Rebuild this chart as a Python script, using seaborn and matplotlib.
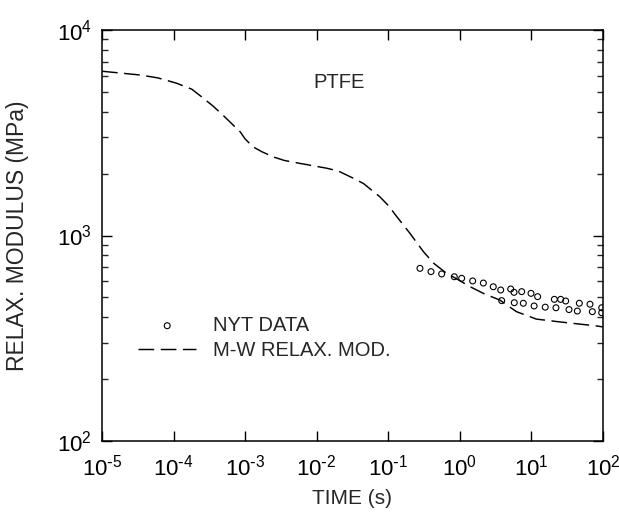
import math
import matplotlib
matplotlib.use("Agg")
import matplotlib.pyplot as plt
import seaborn as sns
import pandas as pd

# Modified Williams (M-W) relaxation modulus model curve for PTFE
model_time = [1e-5, 3.4e-5, 6e-5, 1.1e-4, 1.8e-4, 2.6e-4, 3.6e-4, 4.9e-4,
              6.5e-4, 8.5e-4, 1.0e-3, 1.29e-3, 1.7e-3, 2.45e-3, 3.5e-3,
              5.75e-3, 8e-3, 1.38e-2, 2e-2, 3.24e-2, 4.5e-2, 7.59e-2, 0.1,
              0.132, 0.20, 0.31, 0.43, 0.65, 0.89, 1.38, 2.2, 3.63, 6.17,
              11.7, 24.5, 81.3, 100.0]
model_modulus = [6300, 6040, 5850, 5510, 5150, 4660, 4250, 3850,
                 3500, 3200, 2950, 2700, 2560, 2415, 2320,
                 2245, 2200, 2125, 2060, 1900, 1790, 1545, 1400,
                 1233, 1026, 834, 733, 655, 617, 564, 520, 485, 426,
                 392, 380, 363, 359]

# Measured relaxation data (NYT)
data_time = [0.277, 0.395, 0.557, 0.836, 1.06, 1.51, 2.13, 2.93, 3.72, 5.13,
             5.71, 7.31, 9.86, 12.2, 20.9, 25.6, 30.1, 46.7, 65.8, 95.9,
             3.84, 5.76, 7.70, 10.9, 15.6, 22.0, 33.5, 43.8, 71.0, 95.9]
data_modulus = [692, 667, 650, 630, 619, 601, 587, 563, 543, 549,
                529, 533, 523, 504, 489, 489, 480, 468, 463, 445,
                482, 471, 468, 454, 448, 445, 436, 429, 426, 421]

x_ticks = [1e-5, 1e-4, 1e-3, 1e-2, 1e-1, 1e0, 1e1, 1e2]
y_ticks = [1e2, 1e3, 1e4]


def power_label(value, _pos=None):
    """Decade label written as 10^n with a plain hyphen for negatives."""
    exp = int(round(math.log10(value)))
    sup = r"\text{-}%d" % abs(exp) if exp < 0 else "%d" % exp
    return r"$\mathdefault{10^{%s}}$" % sup


sns.set_style("ticks")
plt.rcParams["font.family"] = ["Liberation Sans", "DejaVu Sans"]
plt.rcParams["axes.unicode_minus"] = False
plt.rcParams["lines.scale_dashes"] = False

model_df = pd.DataFrame({"t": model_time, "E": model_modulus})
data_df = pd.DataFrame({"t": data_time, "E": data_modulus})

fig = plt.figure(figsize=(6.19, 5.17), dpi=100)
ax = fig.add_axes([102 / 619, 1 - 441 / 517, 501 / 619, 411 / 517])

sns.scatterplot(data=data_df, x="t", y="E", ax=ax, marker="o", s=18,
                facecolor="none", edgecolor="black", linewidth=0.8,
                label="NYT DATA", zorder=3)
sns.lineplot(data=model_df, x="t", y="E", ax=ax, color="black",
             linewidth=1.05, dashes=False, label="M-W RELAX. MOD.",
             estimator=None, sort=True)
ax.lines[-1].set_linestyle((0, (11.3, 4.7)))

ax.set_xscale("log")
ax.set_yscale("log")
ax.set_xlim(1e-5, 1e2)
ax.set_ylim(1e2, 1e4)
ax.set_xticks(x_ticks)
ax.set_yticks(y_ticks)
ax.xaxis.set_major_formatter(matplotlib.ticker.FuncFormatter(power_label))
ax.yaxis.set_major_formatter(matplotlib.ticker.FuncFormatter(power_label))
ax.xaxis.set_minor_locator(matplotlib.ticker.NullLocator())
ax.yaxis.set_minor_locator(matplotlib.ticker.LogLocator(base=10, subs=range(2, 10)))
ax.yaxis.set_minor_formatter(matplotlib.ticker.NullFormatter())

for side in ax.spines.values():
    side.set_linewidth(1.1)
    side.set_color("black")
ax.tick_params(which="major", direction="in", length=7, width=1.0,
               top=True, right=True, labelsize=16, colors="black")
ax.tick_params(axis="x", which="major", pad=10)
ax.tick_params(axis="y", which="major", pad=7)
ax.tick_params(which="minor", direction="in", length=4.3, width=1.0,
               top=True, right=True)

ax.set_xlabel("TIME (s)", fontsize=15)
ax.set_ylabel("RELAX. MODULUS (MPa)", fontsize=16.5)
ax.xaxis.set_label_coords(0.5, -0.116)
ax.yaxis.set_label_coords(-0.146, 0.5)

ax.text((339 - 102) / 501, (441 - 82.5) / 411, "PTFE", fontsize=14.5,
        ha="center", va="center", transform=ax.transAxes)

handles, labels = ax.get_legend_handles_labels()
leg = ax.legend(handles, labels, loc="upper left",
                bbox_to_anchor=((138 - 102) / 501, (441 - 316) / 411),
                frameon=False, fontsize=14.5, handlelength=2.9,
                handletextpad=0.8, labelspacing=0.3, borderpad=0,
                borderaxespad=0, markerscale=1.0)

fig.savefig("out.png", dpi=100)
